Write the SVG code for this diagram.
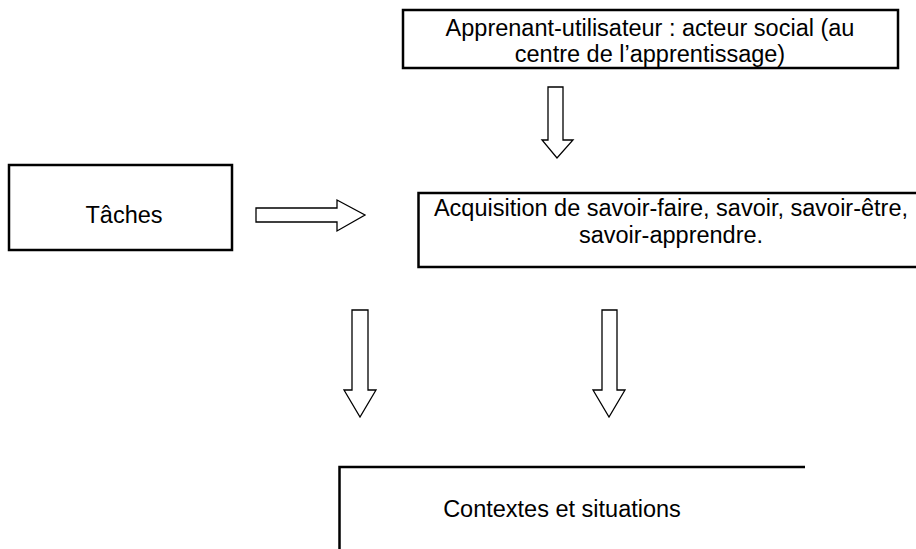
<svg xmlns="http://www.w3.org/2000/svg" width="916" height="549" viewBox="0 0 916 549">
<style>
.box{fill:#fff;stroke:#000;stroke-width:2.5}
.arrow{fill:#fff;stroke:#000;stroke-width:1.3;stroke-linejoin:miter}
text{font-family:"Liberation Sans",Arial,sans-serif;font-size:23.5px;fill:#000;text-anchor:middle}
</style>
<rect width="916" height="549" fill="#fff"/>
<g id="apprenant">
<rect class="box" x="403" y="10" width="495" height="58"/>
<text x="650" y="36">Apprenant-utilisateur : acteur social (au</text>
<text x="650" y="62">centre de l’apprentissage)</text>
</g>
<g id="taches">
<rect class="box" x="9" y="165" width="223" height="85"/>
<text x="124" y="223">Tâches</text>
</g>
<g id="acquisition">
<path class="box" d="M920,193 H418.5 V267 H920"/>
<text x="671" y="216">Acquisition de savoir-faire, savoir, savoir-être,</text>
<text x="671" y="243">savoir-apprendre.</text>
</g>
<g id="contextes">
<path class="box" d="M339.5,555 V467 H805"/>
<text x="562" y="517">Contextes et situations</text>
</g>
<g id="connectors">
<path class="arrow" d="M256,208 H337 V200 L365,215 L337,231 V222 H256 Z"/>
<path class="arrow" d="M548,87 H563 V140 H573 L557,158 L542,140 H548 Z"/>
<path class="arrow" d="M352,310 H368 V390 H376 L360,417 L344,390 H352 Z"/>
<path class="arrow" d="M602,310 H617 V390 H625 L609,417 L593,390 H602 Z"/>
</g>
</svg>
